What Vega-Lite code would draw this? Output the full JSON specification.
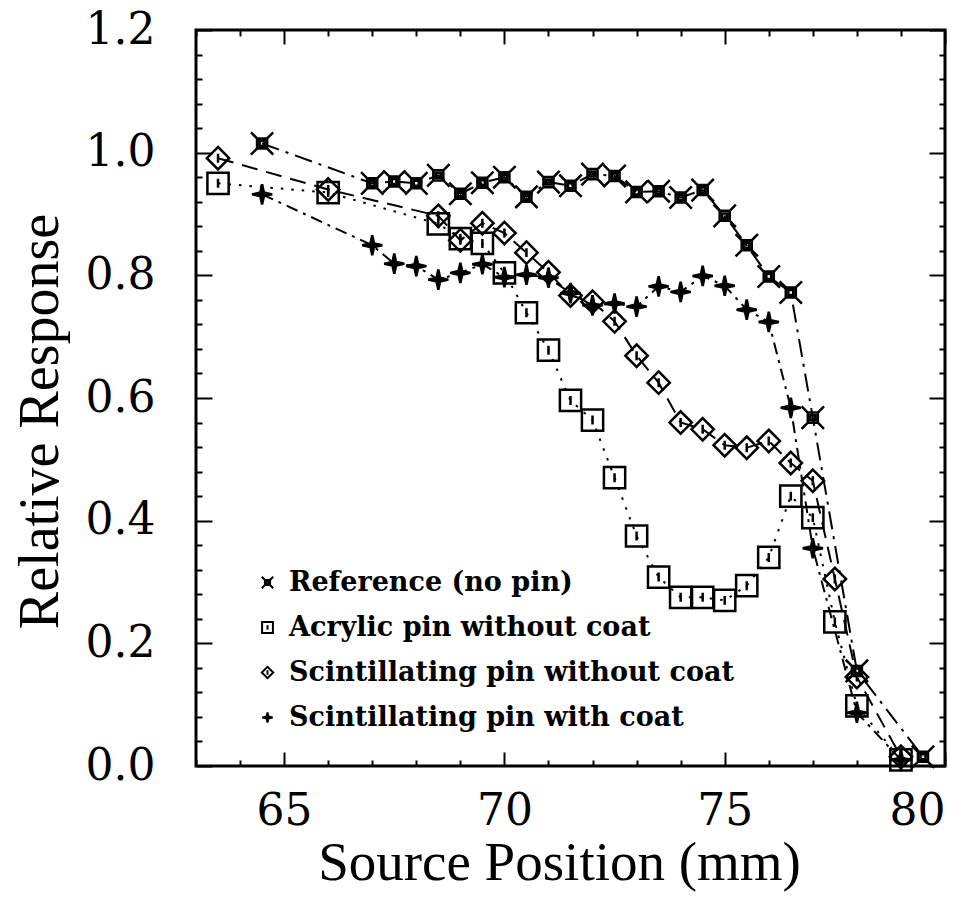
{
  "$schema": "https://vega.github.io/schema/vega-lite/v6.json",
  "width": 749,
  "height": 736,
  "autosize": {"type": "none"},
  "padding": {"left": 196, "top": 30, "right": 27, "bottom": 146},
  "background": "white",
  "config": {
    "view": {"stroke": "black", "strokeWidth": 3},
    "axis": {
      "domain": false,
      "grid": false,
      "tickColor": "black",
      "tickWidth": 2,
      "labelColor": "black",
      "titleColor": "black",
      "labelFont": "DejaVu Serif",
      "labelFontSize": 44,
      "titleFont": "Liberation Serif",
      "titleFontSize": 55,
      "titleFontWeight": "normal"
    },
    "legend": {
      "orient": "none",
      "legendX": 58,
      "legendY": 539,
      "title": null,
      "labelFont": "DejaVu Serif",
      "labelFontSize": 27,
      "labelFontWeight": "bold",
      "labelColor": "black",
      "labelLimit": 0,
      "labelOffset": 8,
      "symbolSize": 130,
      "symbolStrokeWidth": 2,
      "rowPadding": 17
    },
    "line": {"stroke": "black", "strokeWidth": 2}
  },
  "datasets": {
    "response": [
      {"series": "Reference (no pin)", "x": 64.5, "y": 1.015},
      {"series": "Reference (no pin)", "x": 67.0, "y": 0.950},
      {"series": "Reference (no pin)", "x": 67.5, "y": 0.953},
      {"series": "Reference (no pin)", "x": 68.0, "y": 0.950},
      {"series": "Reference (no pin)", "x": 68.5, "y": 0.963},
      {"series": "Reference (no pin)", "x": 69.0, "y": 0.933},
      {"series": "Reference (no pin)", "x": 69.5, "y": 0.951},
      {"series": "Reference (no pin)", "x": 70.0, "y": 0.960},
      {"series": "Reference (no pin)", "x": 70.5, "y": 0.928},
      {"series": "Reference (no pin)", "x": 71.0, "y": 0.952},
      {"series": "Reference (no pin)", "x": 71.5, "y": 0.946},
      {"series": "Reference (no pin)", "x": 72.0, "y": 0.965},
      {"series": "Reference (no pin)", "x": 72.5, "y": 0.962},
      {"series": "Reference (no pin)", "x": 73.0, "y": 0.936},
      {"series": "Reference (no pin)", "x": 73.5, "y": 0.937},
      {"series": "Reference (no pin)", "x": 74.0, "y": 0.927},
      {"series": "Reference (no pin)", "x": 74.5, "y": 0.939},
      {"series": "Reference (no pin)", "x": 75.0, "y": 0.897},
      {"series": "Reference (no pin)", "x": 75.5, "y": 0.849},
      {"series": "Reference (no pin)", "x": 76.0, "y": 0.798},
      {"series": "Reference (no pin)", "x": 76.5, "y": 0.772},
      {"series": "Reference (no pin)", "x": 77.0, "y": 0.568},
      {"series": "Reference (no pin)", "x": 78.0, "y": 0.155},
      {"series": "Reference (no pin)", "x": 79.5, "y": 0.015},

      {"series": "Acrylic pin without coat", "x": 63.5, "y": 0.950},
      {"series": "Acrylic pin without coat", "x": 66.0, "y": 0.935},
      {"series": "Acrylic pin without coat", "x": 68.5, "y": 0.884},
      {"series": "Acrylic pin without coat", "x": 69.0, "y": 0.860},
      {"series": "Acrylic pin without coat", "x": 69.5, "y": 0.852},
      {"series": "Acrylic pin without coat", "x": 70.0, "y": 0.804},
      {"series": "Acrylic pin without coat", "x": 70.5, "y": 0.739},
      {"series": "Acrylic pin without coat", "x": 71.0, "y": 0.678},
      {"series": "Acrylic pin without coat", "x": 71.5, "y": 0.596},
      {"series": "Acrylic pin without coat", "x": 72.0, "y": 0.564},
      {"series": "Acrylic pin without coat", "x": 72.5, "y": 0.470},
      {"series": "Acrylic pin without coat", "x": 73.0, "y": 0.375},
      {"series": "Acrylic pin without coat", "x": 73.5, "y": 0.308},
      {"series": "Acrylic pin without coat", "x": 74.0, "y": 0.275},
      {"series": "Acrylic pin without coat", "x": 74.5, "y": 0.275},
      {"series": "Acrylic pin without coat", "x": 75.0, "y": 0.270},
      {"series": "Acrylic pin without coat", "x": 75.5, "y": 0.294},
      {"series": "Acrylic pin without coat", "x": 76.0, "y": 0.340},
      {"series": "Acrylic pin without coat", "x": 76.5, "y": 0.440},
      {"series": "Acrylic pin without coat", "x": 77.0, "y": 0.405},
      {"series": "Acrylic pin without coat", "x": 77.5, "y": 0.235},
      {"series": "Acrylic pin without coat", "x": 78.0, "y": 0.098},
      {"series": "Acrylic pin without coat", "x": 79.0, "y": 0.010},

      {"series": "Scintillating pin without coat", "x": 63.5, "y": 0.991},
      {"series": "Scintillating pin without coat", "x": 66.0, "y": 0.940},
      {"series": "Scintillating pin without coat", "x": 68.5, "y": 0.897},
      {"series": "Scintillating pin without coat", "x": 69.0, "y": 0.857},
      {"series": "Scintillating pin without coat", "x": 69.5, "y": 0.885},
      {"series": "Scintillating pin without coat", "x": 70.0, "y": 0.869},
      {"series": "Scintillating pin without coat", "x": 70.5, "y": 0.837},
      {"series": "Scintillating pin without coat", "x": 71.0, "y": 0.805},
      {"series": "Scintillating pin without coat", "x": 71.5, "y": 0.767},
      {"series": "Scintillating pin without coat", "x": 72.0, "y": 0.757},
      {"series": "Scintillating pin without coat", "x": 72.5, "y": 0.725},
      {"series": "Scintillating pin without coat", "x": 73.0, "y": 0.669},
      {"series": "Scintillating pin without coat", "x": 73.5, "y": 0.625},
      {"series": "Scintillating pin without coat", "x": 74.0, "y": 0.560},
      {"series": "Scintillating pin without coat", "x": 74.5, "y": 0.549},
      {"series": "Scintillating pin without coat", "x": 75.0, "y": 0.523},
      {"series": "Scintillating pin without coat", "x": 75.5, "y": 0.519},
      {"series": "Scintillating pin without coat", "x": 76.0, "y": 0.530},
      {"series": "Scintillating pin without coat", "x": 76.5, "y": 0.494},
      {"series": "Scintillating pin without coat", "x": 77.0, "y": 0.465},
      {"series": "Scintillating pin without coat", "x": 77.5, "y": 0.305},
      {"series": "Scintillating pin without coat", "x": 78.0, "y": 0.145},
      {"series": "Scintillating pin without coat", "x": 79.0, "y": 0.015},

      {"series": "Scintillating pin with coat", "x": 64.5, "y": 0.932},
      {"series": "Scintillating pin with coat", "x": 67.0, "y": 0.849},
      {"series": "Scintillating pin with coat", "x": 67.5, "y": 0.819},
      {"series": "Scintillating pin with coat", "x": 68.0, "y": 0.815},
      {"series": "Scintillating pin with coat", "x": 68.5, "y": 0.793},
      {"series": "Scintillating pin with coat", "x": 69.0, "y": 0.804},
      {"series": "Scintillating pin with coat", "x": 69.5, "y": 0.818},
      {"series": "Scintillating pin with coat", "x": 70.0, "y": 0.797},
      {"series": "Scintillating pin with coat", "x": 70.5, "y": 0.801},
      {"series": "Scintillating pin with coat", "x": 71.0, "y": 0.796},
      {"series": "Scintillating pin with coat", "x": 71.5, "y": 0.771},
      {"series": "Scintillating pin with coat", "x": 72.0, "y": 0.751},
      {"series": "Scintillating pin with coat", "x": 72.5, "y": 0.754},
      {"series": "Scintillating pin with coat", "x": 73.0, "y": 0.749},
      {"series": "Scintillating pin with coat", "x": 73.5, "y": 0.782},
      {"series": "Scintillating pin with coat", "x": 74.0, "y": 0.773},
      {"series": "Scintillating pin with coat", "x": 74.5, "y": 0.799},
      {"series": "Scintillating pin with coat", "x": 75.0, "y": 0.783},
      {"series": "Scintillating pin with coat", "x": 75.5, "y": 0.744},
      {"series": "Scintillating pin with coat", "x": 76.0, "y": 0.724},
      {"series": "Scintillating pin with coat", "x": 76.5, "y": 0.584},
      {"series": "Scintillating pin with coat", "x": 77.0, "y": 0.355},
      {"series": "Scintillating pin with coat", "x": 78.0, "y": 0.087},
      {"series": "Scintillating pin with coat", "x": 79.0, "y": 0.010}
    ]
  },
  "data": {"name": "response"},
  "layer": [
    {
      "transform": [{"filter": "datum.series === 'Reference (no pin)'"}],
      "mark": {"type": "line", "strokeDash": [18, 7, 3, 7]},
      "encoding": {
        "x": {
          "field": "x", "type": "quantitative",
          "scale": {"domain": [63, 80], "nice": false, "zero": false},
          "axis": {
            "orient": "bottom",
            "values": [65, 70, 75, 80],
            "format": "d",
            "tickSize": -14,
            "labelPadding": 37,
            "title": "Source Position (mm)",
            "titleX": 363,
            "titleY": 96,
            "titleBaseline": "middle",
            "titleAlign": "center"
          }
        },
        "y": {
          "field": "y", "type": "quantitative",
          "scale": {"domain": [0, 1.2], "nice": false, "zero": true},
          "axis": {
            "orient": "left",
            "values": [0, 0.2, 0.4, 0.6, 0.8, 1.0, 1.2],
            "format": ".1f",
            "tickSize": -16,
            "labelPadding": 57,
            "title": "Relative Response",
            "titleX": -156,
            "titleY": 391,
            "titleAngle": -90,
            "titleFontSize": 56,
            "titleBaseline": "middle",
            "titleAlign": "center"
          }
        }
      }
    },
    {
      "transform": [{"filter": "datum.series === 'Acrylic pin without coat'"}],
      "mark": {"type": "line", "strokeDash": [2.5, 8]},
      "encoding": {
        "x": {
          "field": "x", "type": "quantitative",
          "axis": {
            "orient": "bottom",
            "values": [63, 64, 66, 67, 68, 69, 71, 72, 73, 74, 76, 77, 78, 79],
            "tickSize": -6,
            "labels": false,
            "title": null
          }
        },
        "y": {
          "field": "y", "type": "quantitative",
          "axis": {
            "orient": "left",
            "values": [0.04, 0.08, 0.12, 0.16, 0.24, 0.28, 0.32, 0.36, 0.44, 0.48, 0.52, 0.56, 0.64, 0.68, 0.72, 0.76, 0.84, 0.88, 0.92, 0.96, 1.04, 1.08, 1.12, 1.16],
            "tickSize": -6,
            "labels": false,
            "title": null
          }
        }
      }
    },
    {
      "transform": [{"filter": "datum.series === 'Scintillating pin without coat'"}],
      "mark": {"type": "line", "strokeDash": [16, 9]},
      "encoding": {
        "x": {
          "field": "x", "type": "quantitative",
          "axis": {
            "orient": "top",
            "values": [65, 70, 75, 80],
            "tickSize": -14,
            "labels": false,
            "title": null
          }
        },
        "y": {
          "field": "y", "type": "quantitative",
          "axis": {
            "orient": "right",
            "values": [0, 0.2, 0.4, 0.6, 0.8, 1.0, 1.2],
            "tickSize": -16,
            "labels": false,
            "title": null
          }
        }
      }
    },
    {
      "transform": [{"filter": "datum.series === 'Scintillating pin with coat'"}],
      "mark": {"type": "line", "strokeDash": [12, 6, 3, 6]},
      "encoding": {
        "x": {
          "field": "x", "type": "quantitative",
          "axis": {
            "orient": "top",
            "values": [63, 64, 66, 67, 68, 69, 71, 72, 73, 74, 76, 77, 78, 79],
            "tickSize": -6,
            "labels": false,
            "title": null
          }
        },
        "y": {
          "field": "y", "type": "quantitative",
          "axis": {
            "orient": "right",
            "values": [0.04, 0.08, 0.12, 0.16, 0.24, 0.28, 0.32, 0.36, 0.44, 0.48, 0.52, 0.56, 0.64, 0.68, 0.72, 0.76, 0.84, 0.88, 0.92, 0.96, 1.04, 1.08, 1.12, 1.16],
            "tickSize": -6,
            "labels": false,
            "title": null
          }
        }
      }
    },
    {
      "mark": {"type": "point", "strokeWidth": 2.5, "opacity": 1, "size": 500},
      "encoding": {
        "x": {"field": "x", "type": "quantitative", "axis": null},
        "y": {"field": "y", "type": "quantitative", "axis": null},
        "shape": {
          "field": "series", "type": "nominal",
          "scale": {
            "domain": ["Reference (no pin)", "Acrylic pin without coat", "Scintillating pin without coat", "Scintillating pin with coat"],
            "range": [
              "M-0.45,-0.45H0.45V0.45H-0.45Z M-0.22,-0.22H0.22V0.22H-0.22Z M-1,-1L-0.45,-0.45 M1,-1L0.45,-0.45 M-1,1L-0.45,0.45 M1,1L0.45,0.45",
              "M-0.95,-0.95H0.95V0.95H-0.95Z M0,-0.4V0.4",
              "M0,-1L1,0L0,1L-1,0Z M0,-0.4V0.4",
              "M0,-0.9L0.16,-0.16L0.9,0L0.16,0.16L0,0.9L-0.16,0.16L-0.9,0L-0.16,-0.16Z"
            ]
          }
        },
        "fill": {
          "field": "series", "type": "nominal",
          "scale": {
            "domain": ["Reference (no pin)", "Acrylic pin without coat", "Scintillating pin without coat", "Scintillating pin with coat"],
            "range": ["transparent", "transparent", "transparent", "black"]
          }
        },
        "stroke": {
          "field": "series", "type": "nominal",
          "scale": {
            "domain": ["Reference (no pin)", "Acrylic pin without coat", "Scintillating pin without coat", "Scintillating pin with coat"],
            "range": ["black", "black", "black", "black"]
          }
        }
      }
    }
  ],
  "resolve": {"axis": {"x": "independent", "y": "independent"}}
}
